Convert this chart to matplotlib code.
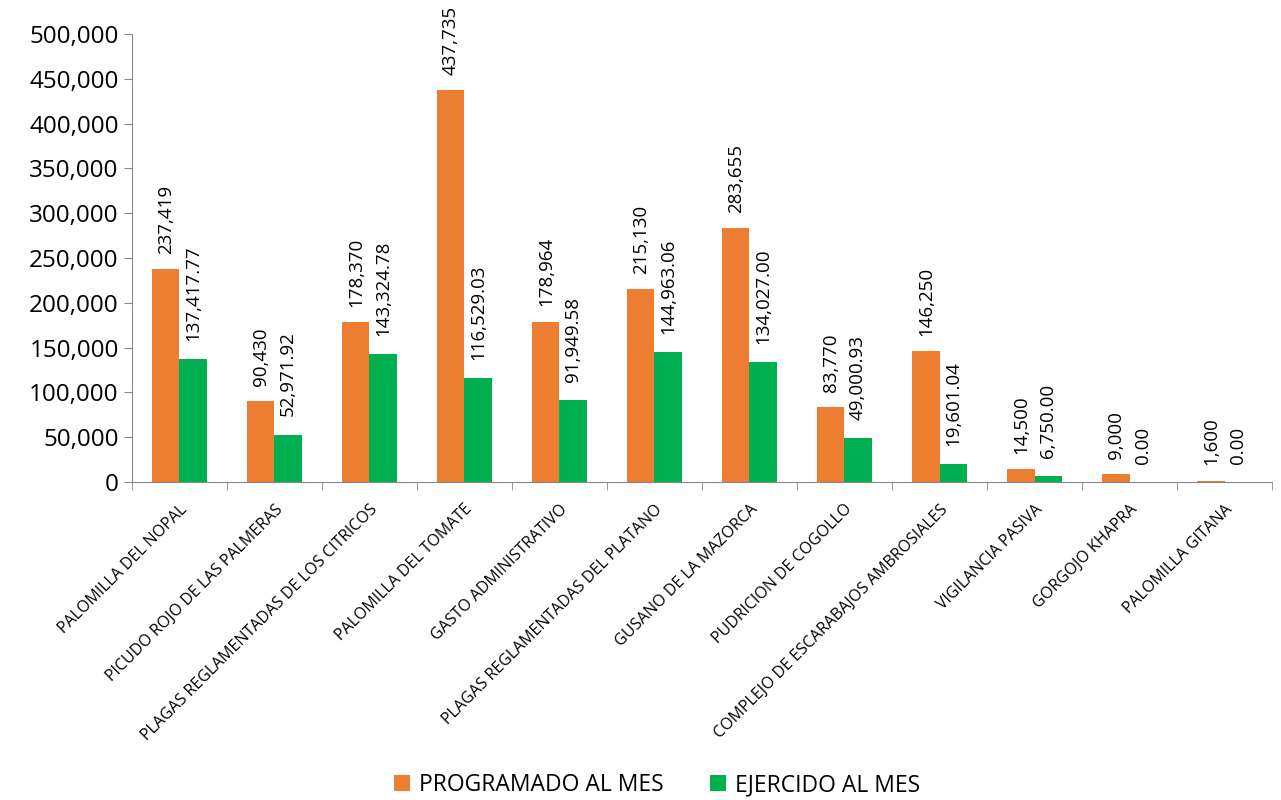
import matplotlib.pyplot as plt
import numpy as np
from matplotlib.ticker import FuncFormatter, FixedLocator

plt.rcParams['font.family'] = ['Open Sans', 'DejaVu Sans']

categorias = ["PALOMILLA DEL NOPAL", "PICUDO ROJO DE LAS PALMERAS",
              "PLAGAS REGLAMENTADAS DE LOS CITRICOS", "PALOMILLA DEL TOMATE",
              "GASTO ADMINISTRATIVO", "PLAGAS REGLAMENTADAS DEL PLATANO",
              "GUSANO DE LA MAZORCA", "PUDRICION DE COGOLLO",
              "COMPLEJO DE ESCARABAJOS AMBROSIALES", "VIGILANCIA PASIVA",
              "GORGOJO KHAPRA", "PALOMILLA GITANA"]
programado = [237419, 90430, 178370, 437735, 178964, 215130, 283655, 83770,
              146250, 14500, 9000, 1600]
ejercido = [137417.77, 52971.92, 143324.78, 116529.03, 91949.58, 144963.06,
            134027.00, 49000.93, 19601.04, 6750.00, 0.00, 0.00]

fig = plt.figure(figsize=(12.81, 8.0), dpi=100)
ax = fig.add_axes([0.103, 0.3975, 0.890, 0.56])

x = np.arange(len(categorias))
w = 0.285
b1 = ax.bar(x - w / 2, programado, w, color='#ED7D31', label="PROGRAMADO AL MES")
b2 = ax.bar(x + w / 2, ejercido, w, color='#00B050', label="EJERCIDO AL MES")

for xi, v in zip(x, programado):
    ax.annotate(f"{v:,.0f}", (xi - w / 2, v), xytext=(0, 11), textcoords='offset points',
                rotation=90, ha='center', va='bottom', fontsize=13.5)
for xi, v in zip(x, ejercido):
    ax.annotate(f"{v:,.2f}", (xi + w / 2, v), xytext=(0, 13), textcoords='offset points',
                rotation=90, ha='center', va='bottom', fontsize=13.5)

ax.set_xlim(-0.5, len(categorias) - 0.5)
ax.set_ylim(0, 500000)
ax.set_yticks(np.arange(0, 500001, 50000))
ax.yaxis.set_major_formatter(FuncFormatter(lambda v, p: f"{v:,.0f}"))
ax.tick_params(axis='y', labelsize=17.5, length=6, color='#888888')

ax.set_xticks(x)
ax.set_xticklabels(categorias, rotation=45, ha='right', rotation_mode='anchor', fontsize=11.5)
ax.tick_params(axis='x', which='major', length=0, pad=14)
ax.xaxis.set_minor_locator(FixedLocator(np.arange(-0.5, len(categorias), 1)))
ax.tick_params(axis='x', which='minor', length=6, color='#888888')

for s in ['top', 'right']:
    ax.spines[s].set_visible(False)
for s in ['left', 'bottom']:
    ax.spines[s].set_color('#888888')

fig.legend(handles=[b1, b2], loc='lower center', bbox_to_anchor=(0.513, -0.022), ncol=2,
           frameon=False, fontsize=16.5, handlelength=0.7, handleheight=0.7,
           columnspacing=2.0, handletextpad=0.4)

plt.savefig("out.png", dpi=100)
